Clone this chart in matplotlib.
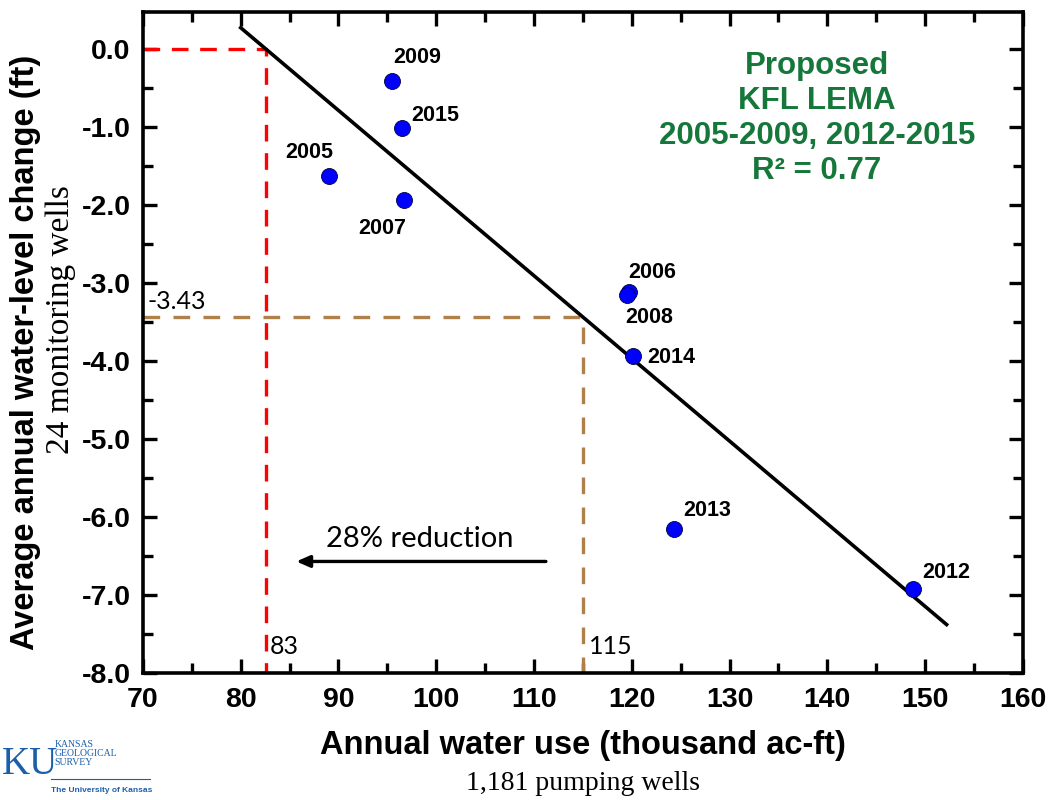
import numpy as np
import matplotlib.pyplot as plt
from matplotlib.ticker import MultipleLocator

# Daten
years = ["2005", "2006", "2007", "2008", "2009", "2012", "2013", "2014", "2015"]
water_use = [89.0, 119.7, 96.7, 119.5, 95.5, 148.8, 124.3, 120.1, 96.5]
level_change = [-1.63, -3.12, -1.94, -3.16, -0.41, -6.92, -6.16, -3.94, -1.01]

current_use = 115
current_change = -3.43
fit_range = (80, 152.2)

# Beschriftungs-Versatz (Punkte)
label_offsets = {
    "2005": (-14, 17), "2006": (17, 14), "2007": (-16, -20), "2008": (16, -16),
    "2009": (18, 17), "2012": (24, 12), "2013": (24, 14), "2014": (28, -1),
    "2015": (24, 9),
}

plt.rcParams['font.family'] = ['Liberation Sans', 'DejaVu Sans']

fig = plt.figure(figsize=(10.55, 8), dpi=100)
ax = fig.add_axes([0.1355, 0.15875, 0.834, 0.8268])

# Regression
m, b = np.polyfit(water_use, level_change, 1)
xf = np.array(fit_range)
ax.plot(xf, m * xf + b, color='black', lw=2.6, zorder=3)
x_zero = -b / m

# Hilfslinien
ax.plot([70, x_zero, x_zero], [0, 0, -8], color='red', lw=2.4,
        dashes=(5, 3.5), zorder=2, clip_on=False)
ax.plot([70, current_use, current_use], [current_change, current_change, -8],
        color='#b0804a', lw=2.4, dashes=(5, 4), zorder=2, clip_on=False)

ax.plot(water_use, level_change, 'o', ms=11.5, mfc='#0000ff', mec='#000040',
        mew=0.6, zorder=4)

for yr, xv, yv in zip(years, water_use, level_change):
    ax.annotate(yr, (xv, yv), xytext=label_offsets[yr], textcoords='offset points',
                ha='center', va='center', fontsize=15.5, fontweight='bold')

ax.text(70.5, current_change + 0.05, "-3.43", fontsize=18, family='Lato',
        va='bottom', ha='left')
ax.text(x_zero + 0.4, -7.66, "83", fontsize=18, family='Lato', va='center', ha='left')
ax.text(current_use + 0.6, -7.66, "115", fontsize=18, family='Lato', va='center', ha='left')

ax.annotate("", xy=(85.4, -6.57), xytext=(111.5, -6.57),
            arrowprops=dict(arrowstyle='-|>,head_length=0.8,head_width=0.35',
                            color='black', lw=2.4))
ax.text(98.3, -6.28, "28% reduction", fontsize=21, family='Lato', ha='center', va='center')

ax.text(0.766, 0.838, "Proposed\nKFL LEMA\n2005-2009, 2012-2015\nR² = 0.77",
        transform=ax.transAxes, ha='center', va='center', color='#16773b',
        fontsize=22.5, fontweight='bold', linespacing=1.22, multialignment='center')

ax.set_xlim(70, 160)
ax.set_ylim(-8, 0.48)
ax.xaxis.set_major_locator(MultipleLocator(10))
ax.xaxis.set_minor_locator(MultipleLocator(5))
ax.yaxis.set_major_locator(MultipleLocator(1))
ax.yaxis.set_minor_locator(MultipleLocator(0.5))
ax.yaxis.set_major_formatter(plt.FuncFormatter(lambda v, p: f"{v:.1f}"))
ax.tick_params(which='both', direction='in', top=True, right=True, width=2.4,
               labelsize=20.5)
ax.tick_params(axis='x', pad=10)
ax.tick_params(axis='y', pad=9)
ax.tick_params(which='major', length=10)
ax.tick_params(which='minor', length=7)
for lab in ax.get_xticklabels() + ax.get_yticklabels():
    lab.set_fontweight('bold')
for sp in ax.spines.values():
    sp.set_linewidth(2.6)

fig.text(0.024, 0.56, "Average annual water-level change (ft)", rotation=90,
         ha='center', va='center', fontsize=23.5, fontweight='bold')
fig.text(0.058, 0.6, "24 monitoring wells", rotation=90, ha='center', va='center',
         fontsize=24, family='Liberation Serif')
fig.text(0.553, 0.068, "Annual water use (thousand ac-ft)", ha='center', va='center',
         fontsize=23.5, fontweight='bold')
fig.text(0.5525, 0.021, "1,181 pumping wells", ha='center', va='center',
         fontsize=20, family='Liberation Serif')

# KU-Logo als Text
fig.text(0.002, 0.045, "KU", fontsize=28, family='Liberation Serif', color='#1b5faa',
         ha='left', va='center')
fig.text(0.052, 0.058, "KANSAS\nGEOLOGICAL\nSURVEY", fontsize=7, family='Liberation Serif',
         color='#1b5faa', ha='left', va='center', linespacing=0.95)
fig.text(0.048, 0.012, "The University of Kansas", fontsize=6, color='#1b5faa',
         fontweight='bold', ha='left', va='center')
fig.add_artist(plt.Line2D([0.048, 0.142], [0.026, 0.026], color='#1b5faa', lw=0.8))

fig.savefig("out.png", dpi=100)
